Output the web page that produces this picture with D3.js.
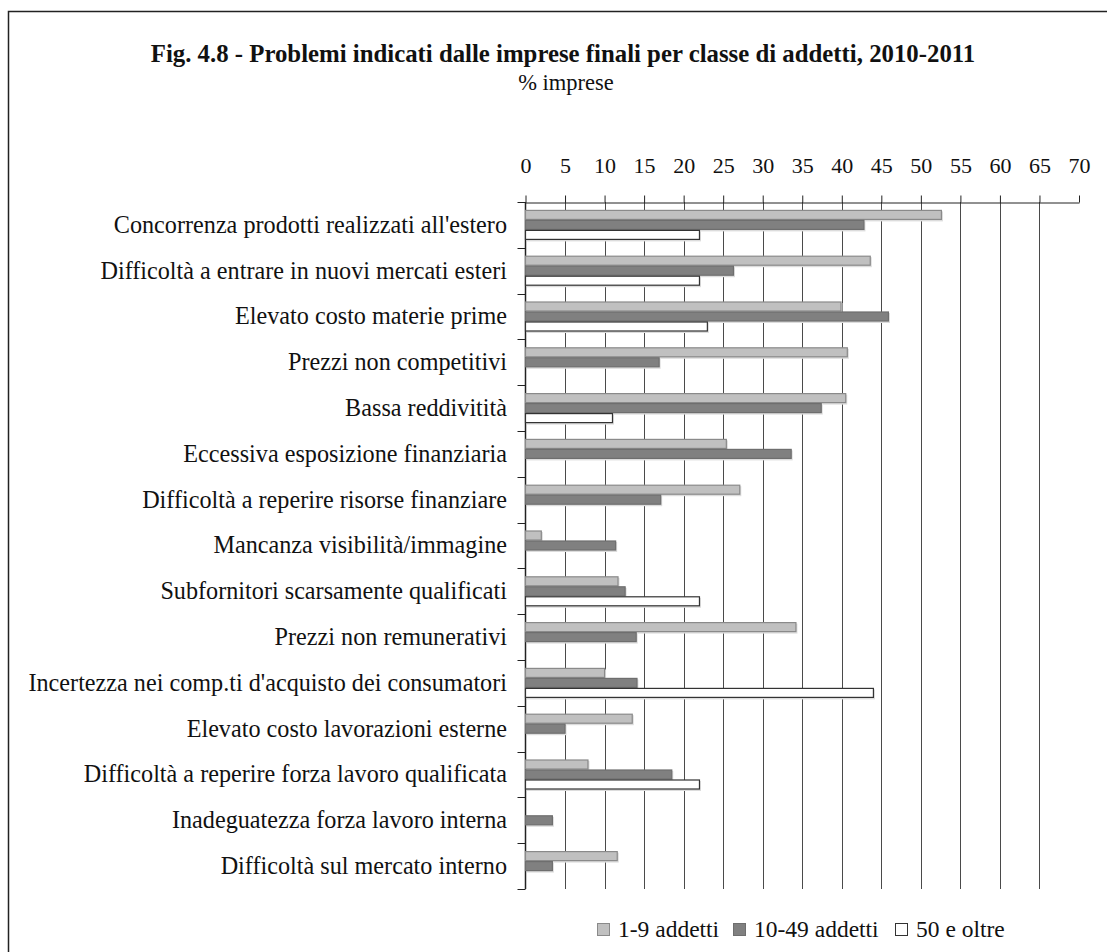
<!DOCTYPE html>
<html>
<head>
<meta charset="utf-8">
<script src="https://cdn.jsdelivr.net/npm/d3@7"></script>
<style>
	body { margin: 0; background: #fff; }
	svg { display: block; font-family: "Liberation Serif", "Times New Roman", serif; }
</style>
</head>
<body>
<div id="root"></div>
<script>
const categories = [
	"Concorrenza prodotti realizzati all'estero",
	"Difficoltà a entrare in nuovi mercati esteri",
	"Elevato costo materie prime",
	"Prezzi non competitivi",
	"Bassa reddivitità",
	"Eccessiva esposizione finanziaria",
	"Difficoltà a reperire risorse finanziare",
	"Mancanza visibilità/immagine",
	"Subfornitori scarsamente qualificati",
	"Prezzi non remunerativi",
	"Incertezza nei comp.ti d'acquisto dei consumatori",
	"Elevato costo lavorazioni esterne",
	"Difficoltà a reperire forza lavoro qualificata",
	"Inadeguatezza forza lavoro interna",
	"Difficoltà sul mercato interno"
]

const seriesNames = ['1-9 addetti', '10-49 addetti', '50 e oltre']

const small = [52.6, 43.6, 39.9, 40.7, 40.5, 25.4, 27.1, 2.0, 11.7, 34.2, 10.0, 13.5, 7.9, 0, 11.6]
const medium = [42.8, 26.3, 45.9, 16.9, 37.4, 33.6, 17.1, 11.4, 12.6, 14.0, 14.1, 5.0, 18.5, 3.4, 3.4]
const large = [22.0, 22.0, 23.0, 0, 11.0, 0, 0, 0, 22.0, 0, 44.0, 0, 22.0, 0, 0]

const xTicks = d3.range(0, 71, 5)

const C = {
	width: 1107,
	height: 952,
	left: 525.5,
	right: 1079,
	top: 202,
	bottom: 889,
	tickFont: 22,
	labelFont: 24.2,
	fills: ['#c0c0c0', '#808080', '#ffffff'],
	strokes: ['#8a8a8a', '#6e6e6e', '#333333'],
}

const data = categories.map((cat, i) => ({
	cat,
	values: [small[i], medium[i], large[i]]
}))

const svg = d3.select('#root').append('svg')
	.attr('width', C.width)
	.attr('height', C.height)

// outer frame
svg.append('path')
	.attr('d', `M8.5,${C.height + 5} V11.5 H${C.width + 5}`)
	.attr('fill', 'none')
	.attr('stroke', '#222')
	.attr('stroke-width', 1.5)

// titles
svg.append('text')
	.attr('x', 563)
	.attr('y', 62)
	.attr('text-anchor', 'middle')
	.attr('font-weight', 'bold')
	.attr('font-size', 24.8)
	.attr('fill', '#111')
	.text('Fig. 4.8 - Problemi indicati dalle imprese finali per classe di addetti, 2010-2011')

svg.append('text')
	.attr('x', 566)
	.attr('y', 90)
	.attr('text-anchor', 'middle')
	.attr('font-size', 22.5)
	.attr('fill', '#111')
	.text('% imprese')

// scales
const x = d3.scaleLinear()
	.domain([0, 70])
	.range([C.left, C.right])

const y0 = d3.scaleBand()
	.domain(categories)
	.range([C.top, C.bottom])
	.paddingInner(0.345)
	.paddingOuter(0.1725)

const y1 = d3.scaleBand()
	.domain(d3.range(seriesNames.length))
	.range([0, y0.bandwidth()])

const boundary = d3.scaleLinear()
	.domain([0, categories.length])
	.range([C.top, C.bottom])

// gridlines (no line at the max)
svg.append('g')
	.selectAll('line')
	.data(xTicks.filter(d => d > 0 && d < 70))
	.enter()
	.append('line')
	.attr('x1', d => Math.round(x(d)) + 0.5)
	.attr('x2', d => Math.round(x(d)) + 0.5)
	.attr('y1', C.top)
	.attr('y2', C.bottom)
	.attr('stroke', '#4a4a4a')
	.attr('stroke-width', 1)

// top axis
const axisX = d3.axisTop(x)
	.tickValues(xTicks)
	.tickSize(7)
	.tickPadding(23)
	.tickSizeOuter(0)

const gx = svg.append('g')
	.attr('transform', `translate(0,${C.top + 0.5})`)
	.call(axisX)

gx.select('.domain').attr('stroke', '#222')
gx.selectAll('.tick line').attr('stroke', '#222')
gx.selectAll('.tick text')
	.attr('font-family', '"Liberation Serif", serif')
	.attr('font-size', C.tickFont)
	.attr('fill', '#111')

// left axis line and boundary ticks
svg.append('line')
	.attr('x1', C.left)
	.attr('x2', C.left)
	.attr('y1', C.top)
	.attr('y2', C.bottom)
	.attr('stroke', '#222')
	.attr('stroke-width', 1.5)

svg.append('g')
	.selectAll('line')
	.data(d3.range(categories.length + 1))
	.enter()
	.append('line')
	.attr('x1', C.left - 8)
	.attr('x2', C.left)
	.attr('y1', d => Math.round(boundary(d)) + 0.5)
	.attr('y2', d => Math.round(boundary(d)) + 0.5)
	.attr('stroke', '#222')

// category labels
svg.append('g')
	.selectAll('text')
	.data(categories)
	.enter()
	.append('text')
	.attr('x', 507)
	.attr('y', d => y0(d) + y0.bandwidth() / 2)
	.attr('dy', '0.33em')
	.attr('text-anchor', 'end')
	.attr('font-size', C.labelFont)
	.attr('fill', '#111')
	.text(d => d)

// bars
const groups = svg.append('g')
	.selectAll('g')
	.data(data)
	.enter()
	.append('g')
	.attr('transform', d => `translate(0,${y0(d.cat)})`)

const bars = groups.selectAll('g')
	.data(d => d.values.map((v, k) => ({ v, k })).filter(e => e.v > 0))
	.enter()
	.append('g')

// faint shadow
bars.append('rect')
	.attr('x', x(0) + 1.5)
	.attr('y', d => y1(d.k) + 1.5)
	.attr('width', d => x(d.v) - x(0))
	.attr('height', y1.bandwidth())
	.attr('fill', '#dcdcdc')

bars.append('rect')
	.attr('x', x(0))
	.attr('y', d => y1(d.k) + 0.5)
	.attr('width', d => x(d.v) - x(0))
	.attr('height', y1.bandwidth() - 1)
	.attr('fill', d => C.fills[d.k])
	.attr('stroke', d => C.strokes[d.k])
	.attr('stroke-width', 1.2)

// legend
const legendX = [597, 733, 895]
const legend = svg.append('g')
	.selectAll('g')
	.data(seriesNames)
	.enter()
	.append('g')
	.attr('transform', (d, i) => `translate(${legendX[i]},923)`)

legend.append('rect')
	.attr('x', 0.5)
	.attr('y', 0.5)
	.attr('width', 12)
	.attr('height', 12)
	.attr('fill', (d, i) => C.fills[i])
	.attr('stroke', (d, i) => C.strokes[i])

legend.append('text')
	.attr('x', 21)
	.attr('y', 14)
	.attr('font-size', 23.5)
	.attr('fill', '#111')
	.text(d => d)
</script>
</body>
</html>
